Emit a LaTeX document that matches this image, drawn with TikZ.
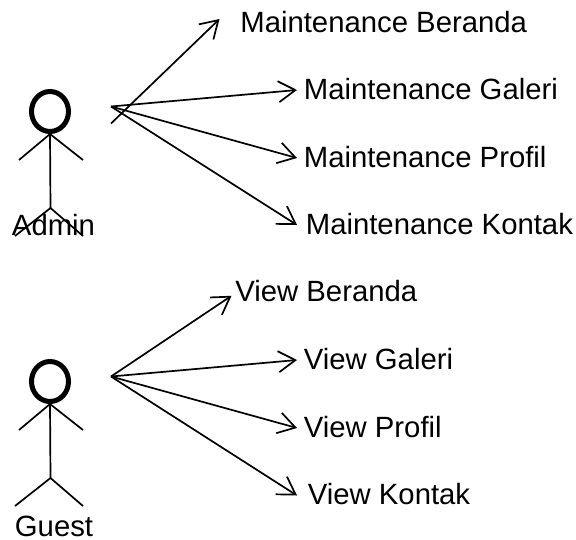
\documentclass[tikz,border=0pt]{standalone}
\usepackage{fontspec}
\setmainfont{Liberation Sans}
\usetikzlibrary{arrows.meta,positioning,shapes.geometric}
\begin{document}
\begin{tikzpicture}[x=1pt, y=-1pt, >={Straight Barb[length=17pt,width=21pt,line width=1.7pt]}, line width=1.7pt,
    usecase/.style={anchor=west, inner xsep=6pt, inner ysep=0pt, text depth=3pt, font=\fontsize{29.3}{32}\selectfont},
    actorname/.style={anchor=base, inner sep=0pt, font=\fontsize{29.3}{32}\selectfont},
    head/.style={draw, ellipse, line width=5pt, minimum width=37pt, minimum height=40pt, inner sep=0pt}]
                \useasboundingbox (0,0) rectangle (576,539);

                \node[head](admin_head) at (50,111.5) {};
                \coordinate (admin_hip) at (50.5,208);
                \coordinate (admin_handl) at (19,160);
                \coordinate (admin_handr) at (83,160);
                \coordinate (admin_footl) at (15,236);
                \coordinate (admin_footr) at (83,236);
                \node[actorname](admin_name) at (53.5,235) {Admin};
                \draw (admin_head.south) -- (admin_hip);
                \draw (admin_head.south) -- (admin_handl);
                \draw (admin_head.south) -- (admin_handr);
                \draw (admin_hip) -- (admin_footl);
                \draw (admin_hip) -- (admin_footr);

                \node[usecase, inner xsep=0pt](maint_beranda) at (239.5,23.3) {Maintenance Beranda};
                \node[usecase](maint_galeri) at (297,90) {Maintenance Galeri};
                \node[usecase](maint_profil) at (297,158) {Maintenance Profil};
                \node[usecase, inner xsep=8pt](maint_kontak) at (297,225) {Maintenance Kontak};
                \coordinate (admin_from) at (111,106.5);
                \coordinate (admin_tail) at (111,123.5);
                \coordinate (beranda_tip) at (219.5,19);

                \path[->] (admin_tail) edge node {} (beranda_tip);
                \path[->] (admin_from) edge node {} (maint_galeri.west);
                \path[->] (admin_from) edge node {} (maint_profil.west);
                \path[->] (admin_from) edge node {} (maint_kontak.west);

                \node[head](guest_head) at (50,381.5) {};
                \coordinate (guest_hip) at (50.5,478);
                \coordinate (guest_handl) at (19,430);
                \coordinate (guest_handr) at (83,430);
                \coordinate (guest_footl) at (15,506);
                \coordinate (guest_footr) at (83,506);
                \node[actorname](guest_name) at (54,536) {Guest};
                \draw (guest_head.south) -- (guest_hip);
                \draw (guest_head.south) -- (guest_handl);
                \draw (guest_head.south) -- (guest_handr);
                \draw (guest_hip) -- (guest_footl);
                \draw (guest_hip) -- (guest_footr);

                \node[usecase, inner xsep=3pt](view_beranda) at (231.5,292.8) {View Beranda};
                \node[usecase](view_galeri) at (297,360) {View Galeri};
                \node[usecase](view_profil) at (297,428) {View Profil};
                \node[usecase, inner xsep=10pt](view_kontak) at (297,495.5) {View Kontak};
                \coordinate (guest_from) at (111,376.5);

                \path[->] (guest_from) edge node {} ([yshift=-3pt]view_beranda.west);
                \path[->] (guest_from) edge node {} (view_galeri.west);
                \path[->] (guest_from) edge node {} (view_profil.west);
                \path[->] (guest_from) edge node {} (view_kontak.west);
            \end{tikzpicture}
\end{document}
